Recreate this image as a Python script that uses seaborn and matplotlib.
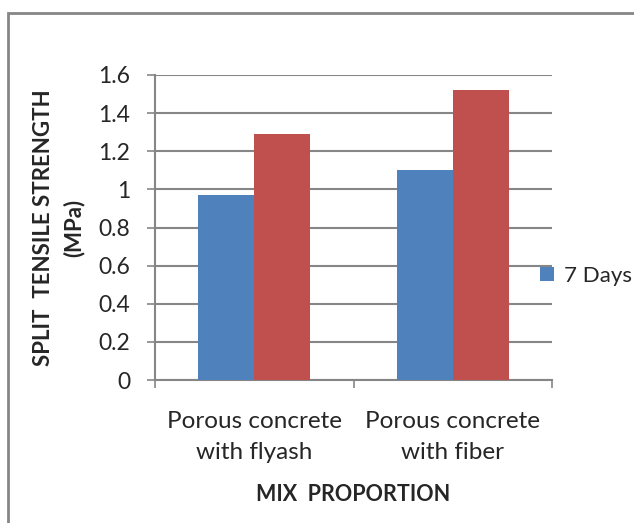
import pandas as pd
import matplotlib.pyplot as plt
import seaborn as sns
from matplotlib.patches import Rectangle

# Daten
mischungen = ["Porous concrete\nwith flyash", "Porous concrete\nwith fiber"]
tage_7 = [0.97, 1.10]
tage_28 = [1.29, 1.52]
serien = ["7 Days", "28 Days"]

df = pd.DataFrame({
    "Mix": mischungen * 2,
    "Strength": tage_7 + tage_28,
    "Series": [serien[0]] * 2 + [serien[1]] * 2,
})

sns.set_style("white")
plt.rcParams["font.family"] = ["Lato", "DejaVu Sans"]

fig = plt.figure(figsize=(6.34, 5.23), dpi=100)
ax = fig.add_axes([0.2445, 0.2734, 0.6262, 0.5832])

sns.barplot(data=df, x="Mix", y="Strength", hue="Series", ax=ax,
            palette=["#4F81BD", "#C0504D"], saturation=1, width=0.566,
            gap=0, edgecolor="none", zorder=3)

grau = "#868686"
ax.set_ylim(0, 1.6)
ax.set_xlim(-0.5, 1.5)
ax.set_yticks([0, 0.2, 0.4, 0.6, 0.8, 1, 1.2, 1.4, 1.6])
ax.set_yticklabels(["0", "0.2", "0.4", "0.6", "0.8", "1", "1.2", "1.4", "1.6"])
ax.yaxis.grid(True, color=grau, linewidth=1.5, zorder=0)
ax.set_axisbelow(True)

ax.tick_params(axis="y", length=6, width=1.2, color=grau, pad=12,
               labelsize=16.5, left=True, direction="out")
ax.tick_params(axis="x", which="major", length=0, pad=22, labelsize=17.5)
for lab in ax.get_xticklabels():
    lab.set_linespacing(1.6)
ax.set_xticks([-0.5, 0.5, 1.5], minor=True)
ax.tick_params(axis="x", which="minor", length=6, width=1.2, color=grau,
               bottom=True, direction="out")

for s in ["top", "right"]:
    ax.spines[s].set_visible(False)
for s in ["left", "bottom"]:
    ax.spines[s].set_color(grau)
    ax.spines[s].set_linewidth(1.5)

ax.set_xlabel("MIX  PROPORTION", fontsize=15.5, fontweight="bold", labelpad=15)
ax.set_ylabel("SPLIT  TENSILE STRENGTH\n(MPa)", fontsize=16,
              fontweight="bold", labelpad=10, linespacing=1.5)

# Legende nur mit erstem Eintrag (wie im Original abgeschnitten)
handles, labels = ax.get_legend_handles_labels()
ax.get_legend().remove()
fig.legend(handles[:1], labels[:1], loc="center left",
           bbox_to_anchor=(540 / 634, 1 - 276 / 523), frameon=False,
           fontsize=16, handlelength=0.62, handleheight=0.62,
           handletextpad=0.45, borderpad=0, borderaxespad=0)

# Rahmen um das Diagramm
fig.patches.append(Rectangle((8 / 634, -0.1), 1.2, (523 - 13) / 523 + 0.1,
                             transform=fig.transFigure, fill=False,
                             edgecolor=grau, linewidth=2))

fig.savefig("out.png", dpi=100)
